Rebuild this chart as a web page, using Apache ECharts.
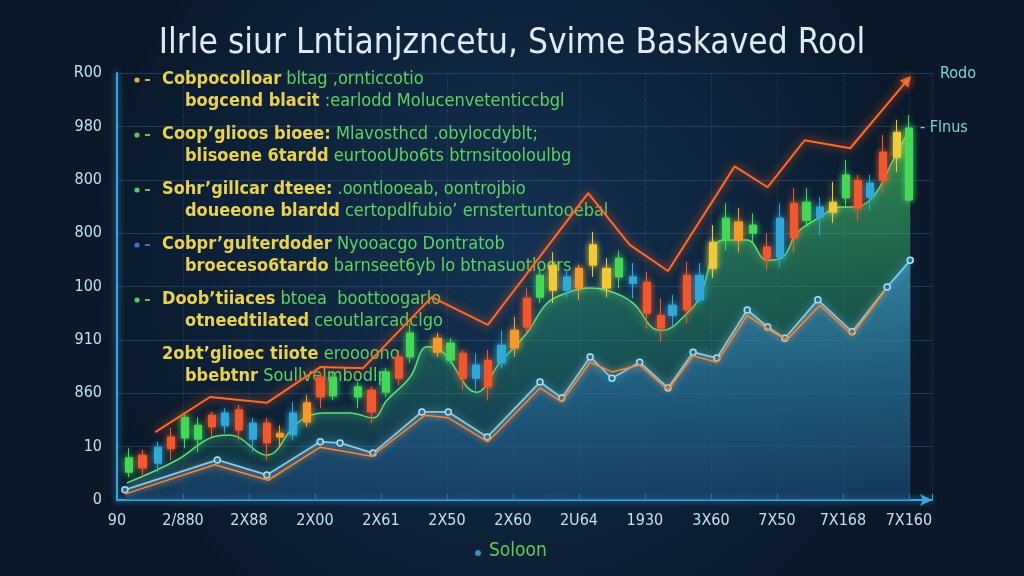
<!DOCTYPE html>
<html><head><meta charset="utf-8">
<script src="https://cdn.jsdelivr.net/npm/echarts@6/dist/echarts.min.js"></script>
<style>html,body{margin:0;padding:0;background:#0b1a2c;}#c{width:1024px;height:576px;}</style>
</head><body><div id="c"></div><script>
const titleText = 'Ilrle siur Lntianjzncetu, Svime Baskaved Rool';
const yTickLabels = ['0','10','860','910','100','800','800','980','R00'];
const xTickLabels = ['90','2/880','2X88','2X00','2X61','2X50','2X60','2U64','1930','3X60','7X50','7X168','7X160'];
const rightLabelTop = 'Rodo';
const rightLabelMid = '- Flnus';
const legendText = 'Soloon';

// [x, y]
const topLine = [[0.58,1.27],[1.41,1.93],[2.27,1.82],[3.08,2.49],[3.73,2.47],[4.77,3.80],[5.62,3.28],[7.14,5.75],[7.77,4.78],[8.35,4.29],[9.36,6.25],[9.86,5.86],[10.42,6.74],[11.11,6.59],[11.98,7.87]];
const greenLine = [[0.15,0.32],[0.91,0.75],[1.45,1.18],[1.71,1.22],[2.27,0.84],[2.73,1.44],[3.12,1.63],[3.53,1.63],[3.88,1.54],[4.09,1.87],[4.44,2.30],[4.70,2.87],[4.94,2.77],[5.45,2.02],[5.80,2.57],[6.21,3.13],[6.52,3.69],[6.82,3.88],[7.17,3.97],[7.42,3.93],[7.82,3.69],[8.12,3.22],[8.27,3.18],[8.64,3.50],[8.83,3.80],[9.18,4.87],[9.55,4.87],[9.85,4.49],[10.09,4.55],[10.30,5.00],[10.65,5.30],[10.95,5.49],[11.15,5.49],[11.45,5.67],[11.76,6.37],[12.02,6.97]];
const blueLine = [[0.12,0.19],[1.52,0.75],[2.27,0.47],[3.08,1.09],[3.38,1.07],[3.88,0.88],[4.62,1.65],[5.02,1.65],[5.61,1.18],[6.41,2.21],[6.74,1.91],[7.17,2.68],[7.50,2.28],[7.92,2.58],[8.35,2.10],[8.73,2.77],[9.09,2.66],[9.55,3.56],[9.86,3.24],[10.12,3.03],[10.62,3.75],[11.14,3.15],[11.67,3.99],[12.02,4.49]];
const lowerOrangeLine = [[0.12,0.11],[1.48,0.66],[2.29,0.37],[3.08,0.99],[3.86,0.82],[4.67,1.59],[5.02,1.54],[5.62,1.09],[6.41,2.10],[6.74,1.84],[7.17,2.58],[7.50,2.40],[7.92,2.53],[8.35,2.06],[8.73,2.70],[9.09,2.58],[9.55,3.46],[9.89,3.18],[10.15,3.00],[10.65,3.65],[11.14,3.09],[11.64,3.93]];

// [x, open, close, low, high]
const greenCandles = [[0.18,0.52,0.79,0.43,0.97],[1.03,1.16,1.55,0.97,1.63],[1.23,1.14,1.40,0.90,1.55],[3.27,1.95,2.30,1.87,2.38],[3.65,1.93,2.12,1.72,2.21],[4.08,2.02,2.40,1.93,2.47],[4.44,2.68,3.13,2.57,3.31],[5.05,2.62,2.94,2.57,3.03],[6.41,3.80,4.21,3.69,4.36],[7.61,4.18,4.53,3.97,4.68],[9.23,4.87,5.28,4.68,5.56],[9.64,5.00,5.15,4.81,5.37],[10.45,5.24,5.58,5.11,5.84],[11.05,5.66,6.09,5.49,6.37],[12.00,5.62,6.97,5.60,7.21]];
const redCandles = [[0.39,0.60,0.84,0.43,0.94],[0.82,0.96,1.18,0.75,1.35],[1.44,1.37,1.59,1.18,1.65],[1.85,1.31,1.69,1.12,1.78],[2.27,1.07,1.44,0.75,1.54],[3.08,1.93,2.30,1.72,2.38],[3.86,1.65,2.06,1.44,2.12],[4.27,2.28,2.68,2.15,2.81],[5.24,2.28,2.75,2.06,2.81],[5.62,2.12,2.62,1.87,2.81],[6.21,3.24,3.78,3.13,3.97],[8.03,3.50,4.08,3.22,4.27],[8.24,3.22,3.46,2.96,3.78],[8.64,3.56,4.21,3.31,4.46],[9.85,4.53,4.74,4.31,4.99],[10.26,4.91,5.56,4.64,5.84],[11.23,5.47,5.99,5.24,6.09],[11.61,5.99,6.52,5.75,6.84]];
const blueCandles = [[0.62,0.69,0.99,0.52,1.09],[1.64,1.39,1.63,1.25,1.72],[2.06,1.14,1.44,0.90,1.54],[2.67,1.22,1.63,1.12,1.84],[5.44,2.28,2.53,2.06,2.75],[5.83,2.57,2.90,2.47,3.18],[6.82,3.93,4.18,3.80,4.31],[7.82,4.06,4.18,3.78,4.44],[8.42,3.46,3.65,3.22,3.84],[8.83,3.75,4.21,3.69,4.44],[10.05,4.55,5.28,4.36,5.56],[10.65,5.30,5.49,4.96,5.67],[11.41,5.67,5.94,5.43,6.09]];
const orangeCandles = [[2.47,1.18,1.25,0.98,1.40],[2.88,1.46,1.82,1.37,1.97],[4.86,2.77,3.03,2.68,3.13],[6.02,2.85,3.18,2.68,3.43],[7.00,3.97,4.34,3.75,4.40],[9.42,4.87,5.21,4.64,5.47]];
const yellowCandles = [[6.61,3.93,4.40,3.69,4.64],[7.21,4.40,4.78,4.18,5.02],[7.42,3.97,4.34,3.80,4.53],[9.03,4.34,4.83,4.16,5.15],[10.85,5.39,5.58,5.19,5.96],[11.82,6.42,6.89,6.14,7.12]];

// annotation lines: [yellow part, green part]
const noteLines = [
  [['Cobpocolloar',' bltag ,ornticcotio'],['bogcend blacit',' :earlodd Molucenvetenticcbgl']],
  [['Coop\u2019glioos bioee:',' Mlavosthcd .obylocdyblt;'],['blisoene 6tardd',' eurtooUbo6ts btrnsitooloulbg']],
  [['Sohr\u2019gillcar dteee:',' .oontlooeab, oontrojbio'],['doueeone blardd',' certopdlfubio\u2019 ernstertuntooebal']],
  [['Cobpr\u2019gulterdoder',' Nyooacgo Dontratob'],['broeceso6tardo',' barnseet6yb lo btnasuotloors']],
  [['Doob\u2019tiiaces',' btoea  boottoogarlo'],['otneedtilated',' ceoutlarcadclgo']],
  [['2obt\u2019glioec tiiote',' eroooono'],['bbebtnr',' Soullvelmbodlp']]
];

const chart = echarts.init(document.getElementById('c'));
const narrow = '"Liberation Sans Narrow","DejaVu Sans Condensed","Roboto Condensed",sans-serif';
const bulletColors = ['#e0b040','#56c66a','#56c66a','#3a70c8','#56c66a',null];

const graphics = [];
noteLines.forEach((blk, i) => {
  const y1 = 80 + 55 * i;
  if (bulletColors[i]) {
    graphics.push({type:'circle', shape:{cx:137, cy:y1, r:2.6}, style:{fill:bulletColors[i]}});
    graphics.push({type:'rect', shape:{x:145, y:y1-1, width:5, height:2}, style:{fill:bulletColors[i]}});
  }
  blk.forEach((ln, j) => {
    graphics.push({type:'text', left: j === 0 ? 162 : 185, top: y1 + 22*j - 10,
      style:{text:'{a|'+ln[0]+'}{b|'+ln[1]+'}', rich:{
        a:{fill:'#e9d24e', fontSize:18, fontWeight:'bold', fontFamily:narrow},
        b:{fill:'#5cd462', fontSize:18, fontFamily:narrow}}}});
  });
});
graphics.push({type:'text', left:940, top:66, style:{text:rightLabelTop, fill:'#7fd4e2', fontSize:16, fontFamily:narrow}});
graphics.push({type:'text', left:920, top:120, style:{text:rightLabelMid, fill:'#7fd4e2', fontSize:16, fontFamily:narrow}});
graphics.push({type:'circle', shape:{cx:478, cy:553, r:3}, style:{fill:'#3a8fb8'}});
graphics.push({type:'text', left:489, top:542, style:{text:legendText, fill:'#5ccc5a', fontSize:19, fontFamily:narrow}});

function candle(name, data, color, z) {
  return {type:'candlestick', name, data, z, encode:{x:0, y:[1,2,3,4]}, barWidth:8,
    itemStyle:{color, color0:color, borderColor:color, borderColor0:color, borderWidth:1,
      shadowBlur:6, shadowColor:color}};
}

chart.setOption({
  animation:false,
  backgroundColor:{type:'radial', x:0.5, y:0.45, r:0.75,
    colorStops:[{offset:0,color:'#133253'},{offset:1,color:'#0a1829'}]},
  title:{text:titleText, left:'center', top:21,
    textStyle:{color:'#dcebf6', fontSize:35, fontWeight:'normal', fontFamily:narrow}},
  grid:{left:117, right:92, top:73, bottom:76},
  xAxis:{type:'value', min:0, max:12.35, interval:1,
    axisLine:{show:true, symbol:['none','arrow'], symbolSize:[9,12], lineStyle:{color:'#3aa6dd', width:2, shadowBlur:6, shadowColor:'#3aa6dd'}},
    axisTick:{show:true, length:6, inside:true, lineStyle:{color:'#3aa6dd'}},
    splitLine:{show:true, lineStyle:{color:'rgba(80,130,180,0.2)', type:'dashed'}},
    axisLabel:{color:'#bfe0f2', fontSize:16, margin:13, fontFamily:narrow,
      formatter:v => Number.isInteger(v) ? (xTickLabels[v] || '') : ''}},
  yAxis:{type:'value', min:0, max:8, interval:1,
    axisLine:{show:true, lineStyle:{color:'#3aa6dd', width:2, shadowBlur:6, shadowColor:'#3aa6dd'}},
    axisTick:{show:false},
    splitLine:{show:true, lineStyle:{color:'rgba(80,130,180,0.3)'}},
    axisLabel:{color:'#bfe0f2', fontSize:16, margin:15, fontFamily:narrow,
      formatter:v => yTickLabels[v] || ''}},
  graphic:graphics,
  series:[
    {type:'line', name:'green', data:greenLine, symbol:'none', smooth:0.4, z:2,
      lineStyle:{color:'#5fe27a', width:1.5, shadowBlur:8, shadowColor:'#5fe27a'},
      areaStyle:{color:{type:'linear', x:0, y:0, x2:0, y2:1, colorStops:[
        {offset:0,color:'rgba(72,210,100,0.9)'},{offset:0.6,color:'rgba(40,150,110,0.55)'},{offset:1,color:'rgba(25,90,110,0.4)'}]}}},
    candle('g', greenCandles, '#45d85a', 4),
    candle('r', redCandles, '#f0582e', 4),
    candle('b', blueCandles, '#33a8d6', 4),
    candle('o', orangeCandles, '#f59a2c', 4),
    candle('y', yellowCandles, '#eccc3a', 4),
    {type:'line', name:'blue', data:blueLine, symbol:'circle', symbolSize:6, z:5,
      itemStyle:{color:'#2a6d9c', borderColor:'#a8e6f6', borderWidth:1.5},
      lineStyle:{color:'#7fd0f0', width:1.8, shadowBlur:8, shadowColor:'#4fb8ee'},
      areaStyle:{color:{type:'linear', x:0, y:0, x2:0, y2:1, colorStops:[
        {offset:0,color:'rgba(60,150,210,0.85)'},{offset:1,color:'rgba(30,80,140,0.55)'}]}}},
    {type:'line', name:'orange2', data:lowerOrangeLine, symbol:'none', z:6,
      lineStyle:{color:'#f08a3a', width:1.5, shadowBlur:6, shadowColor:'#f07a2a'}},
    {type:'line', name:'top', data:topLine, symbol:'none', z:7,
      lineStyle:{color:'#ff6a2a', width:2, shadowBlur:10, shadowColor:'#ff5a1a'}},
    {type:'scatter', data:[topLine[topLine.length-1]], symbol:'triangle', symbolSize:11, symbolRotate:-40, z:8,
      itemStyle:{color:'#ff7a30', shadowBlur:8, shadowColor:'#ff5a1a'}}
  ]
});
</script></body></html>
